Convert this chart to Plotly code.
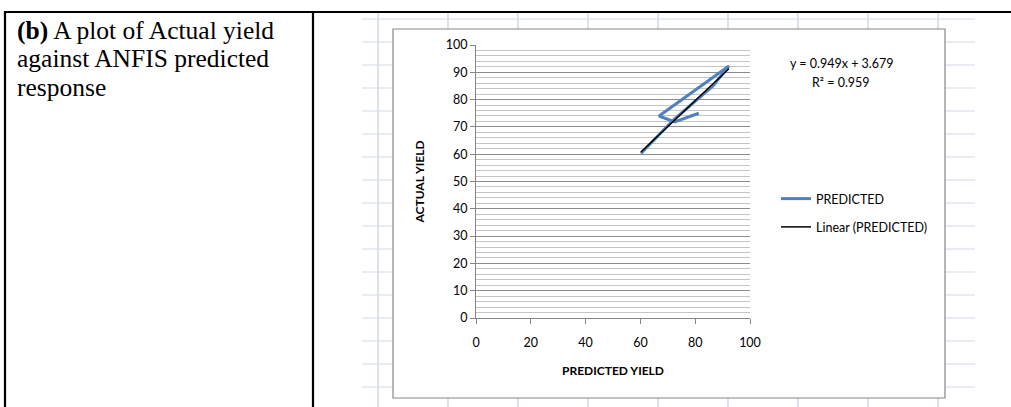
import plotly.graph_objects as go

# ---- data ----
predicted_x = [60.2, 72.0, 86.5, 92.3, 66.8, 72.5, 81.3]
actual_y = [60.3, 72.5, 85.0, 92.3, 74.0, 71.8, 75.0]
trend_slope = 0.949
trend_intercept = 3.679
r_squared = 0.959
x_ticks = [0, 20, 40, 60, 80, 100]
y_ticks = [0, 10, 20, 30, 40, 50, 60, 70, 80, 90, 100]
series_name = "PREDICTED"
trend_name = "Linear (PREDICTED)"
x_title = "PREDICTED YIELD"
y_title = "ACTUAL YIELD"
cell_lines = ["<b>(b)</b> A plot of Actual yield", "against ANFIS predicted", "response"]

W, H = 1011, 407


def px(x):
    return x / W


def py(y):
    return 1 - y / H


trend_x = [min(predicted_x), max(predicted_x)]
trend_y = [trend_slope * v + trend_intercept for v in trend_x]

fig = go.Figure()
fig.add_trace(go.Scatter(
    x=predicted_x, y=actual_y, mode="lines", name=series_name,
    line=dict(color="#4f81bd", width=3), legendgroup="a",
))
fig.add_trace(go.Scatter(
    x=trend_x, y=trend_y, mode="lines", name=trend_name,
    line=dict(color="#000000", width=1.5), legendgroup="b",
))

shapes = []
grid_col = "#d3dae6"
# spreadsheet grid behind the chart
for k in range(17):
    y = 19 + 23 * k
    shapes.append(dict(type="line", xref="paper", yref="paper",
                       x0=px(362), x1=px(975), y0=py(y), y1=py(y),
                       line=dict(color=grid_col, width=1.2), layer="below"))
for k in range(9):
    x = 378 + 70 * k
    shapes.append(dict(type="line", xref="paper", yref="paper",
                       x0=px(x), x1=px(x), y0=py(13), y1=py(407),
                       line=dict(color=grid_col, width=1.6), layer="below"))
# chart area
shapes.append(dict(type="rect", xref="paper", yref="paper",
                   x0=px(393), x1=px(945), y0=py(29), y1=py(398),
                   fillcolor="white", line=dict(color="#868686", width=1.2),
                   layer="below"))
# table borders
tb = dict(color="black", width=2.2)
shapes.append(dict(type="line", xref="paper", yref="paper",
                   x0=px(4), x1=px(1011), y0=py(12), y1=py(12), line=tb))
shapes.append(dict(type="line", xref="paper", yref="paper",
                   x0=px(5), x1=px(5), y0=py(11), y1=py(407), line=tb))
shapes.append(dict(type="line", xref="paper", yref="paper",
                   x0=px(313), x1=px(313), y0=py(11), y1=py(407), line=tb))

annotations = []
for i, line in enumerate(cell_lines):
    annotations.append(dict(
        text=line, xref="paper", yref="paper", x=px(15), y=py(30.5 + 28.3 * i),
        xanchor="left", yanchor="middle", align="left", showarrow=False,
        font=dict(family="Liberation Serif", size=25.5, color="black")))
annotations += [
    dict(text=f"y = {trend_slope}x + {trend_intercept}", xref="paper", yref="paper",
         x=px(842), y=py(64), xanchor="center", yanchor="middle", showarrow=False,
         font=dict(family="Lato", size=12.5, color="black")),
    dict(text=f"R² = {r_squared}", xref="paper", yref="paper",
         x=px(841), y=py(83), xanchor="center", yanchor="middle", showarrow=False,
         font=dict(family="Lato", size=12.5, color="black")),
]

axis_font = dict(family="Lato", size=12.5, color="black")
title_font = dict(family="Lato", size=12, color="black")

fig.update_layout(
    width=W, height=H, autosize=False,
    margin=dict(l=0, r=0, t=0, b=0, pad=0, autoexpand=False),
    paper_bgcolor="white", plot_bgcolor="rgba(0,0,0,0)",
    shapes=shapes, annotations=annotations,
    showlegend=True,
    legend=dict(x=px(776), y=py(184), xanchor="left", yanchor="top",
                font=dict(family="Lato", size=12.5, color="black"),
                bgcolor="rgba(0,0,0,0)", traceorder="grouped",
                tracegroupgap=9, itemwidth=30),
    xaxis=dict(domain=[px(476), px(750)], range=[0, 100], tickvals=x_ticks,
               showgrid=False, zeroline=False, showline=True, automargin=False,
               linecolor="#868686", linewidth=1, ticks="outside", ticklen=5,
               tickcolor="#868686", tickfont=axis_font, ticklabelstandoff=8,
               title=dict(text=f"<b>{x_title}</b>", font=title_font, standoff=17)),
    yaxis=dict(domain=[py(318), py(45)], range=[0, 100], tickvals=y_ticks,
               showgrid=True, gridcolor="#8c8c8c", gridwidth=1, zeroline=False,
               showline=True, linecolor="#868686", linewidth=1, automargin=False,
               ticks="outside", ticklen=5, tickcolor="#868686",
               tickfont=axis_font,
               minor=dict(dtick=2, showgrid=True, gridcolor="#c4c4c4", gridwidth=1),
               title=dict(text=f"<b>{y_title}</b>", font=title_font, standoff=18)),
)

fig.write_html("out.html", config={"displayModeBar": False},
               post_script="document.body.style.margin='0';")
